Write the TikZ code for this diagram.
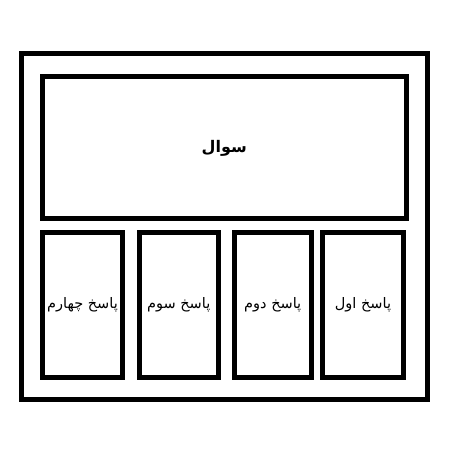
\documentclass[tikz,border=0pt]{standalone}
\usepackage{fontspec}
\newfontfamily\arabicfont[Script=Arabic]{DejaVu Sans}
\TeXXeTstate=1
\usetikzlibrary{positioning}
\tikzset{frame/.style={draw, line width=5pt, minimum width=#1},
            answer/.style={frame=#1, minimum height=145pt, font=\arabicfont\fontsize{14.5}{17}\selectfont}}
\begin{document}
\begin{tikzpicture}[x=1pt,y=1pt]
            \useasboundingbox (0,0) rectangle (464,468);
            \node [frame=406.5pt, minimum height=346pt] (outer) at (224.25,241.5) {};
            \node [frame=363.5pt, minimum height=142pt, font=\arabicfont\bfseries\fontsize{16}{19}\selectfont] (question) at (224.25,320) {\beginR سوال\endR};
            \node [answer=80pt] (answer4) at (82.5,163) {\beginR پاسخ چهارم\endR};
            \node [answer=79.5pt] (answer3) at (178.75,163) {\beginR پاسخ سوم\endR};
            \node [answer=77.5pt] (answer2) at (272.75,163) {\beginR پاسخ دوم\endR};
            \node [answer=81pt] (answer1) at (363,163) {\beginR پاسخ اول\endR};
        \end{tikzpicture}
\end{document}
